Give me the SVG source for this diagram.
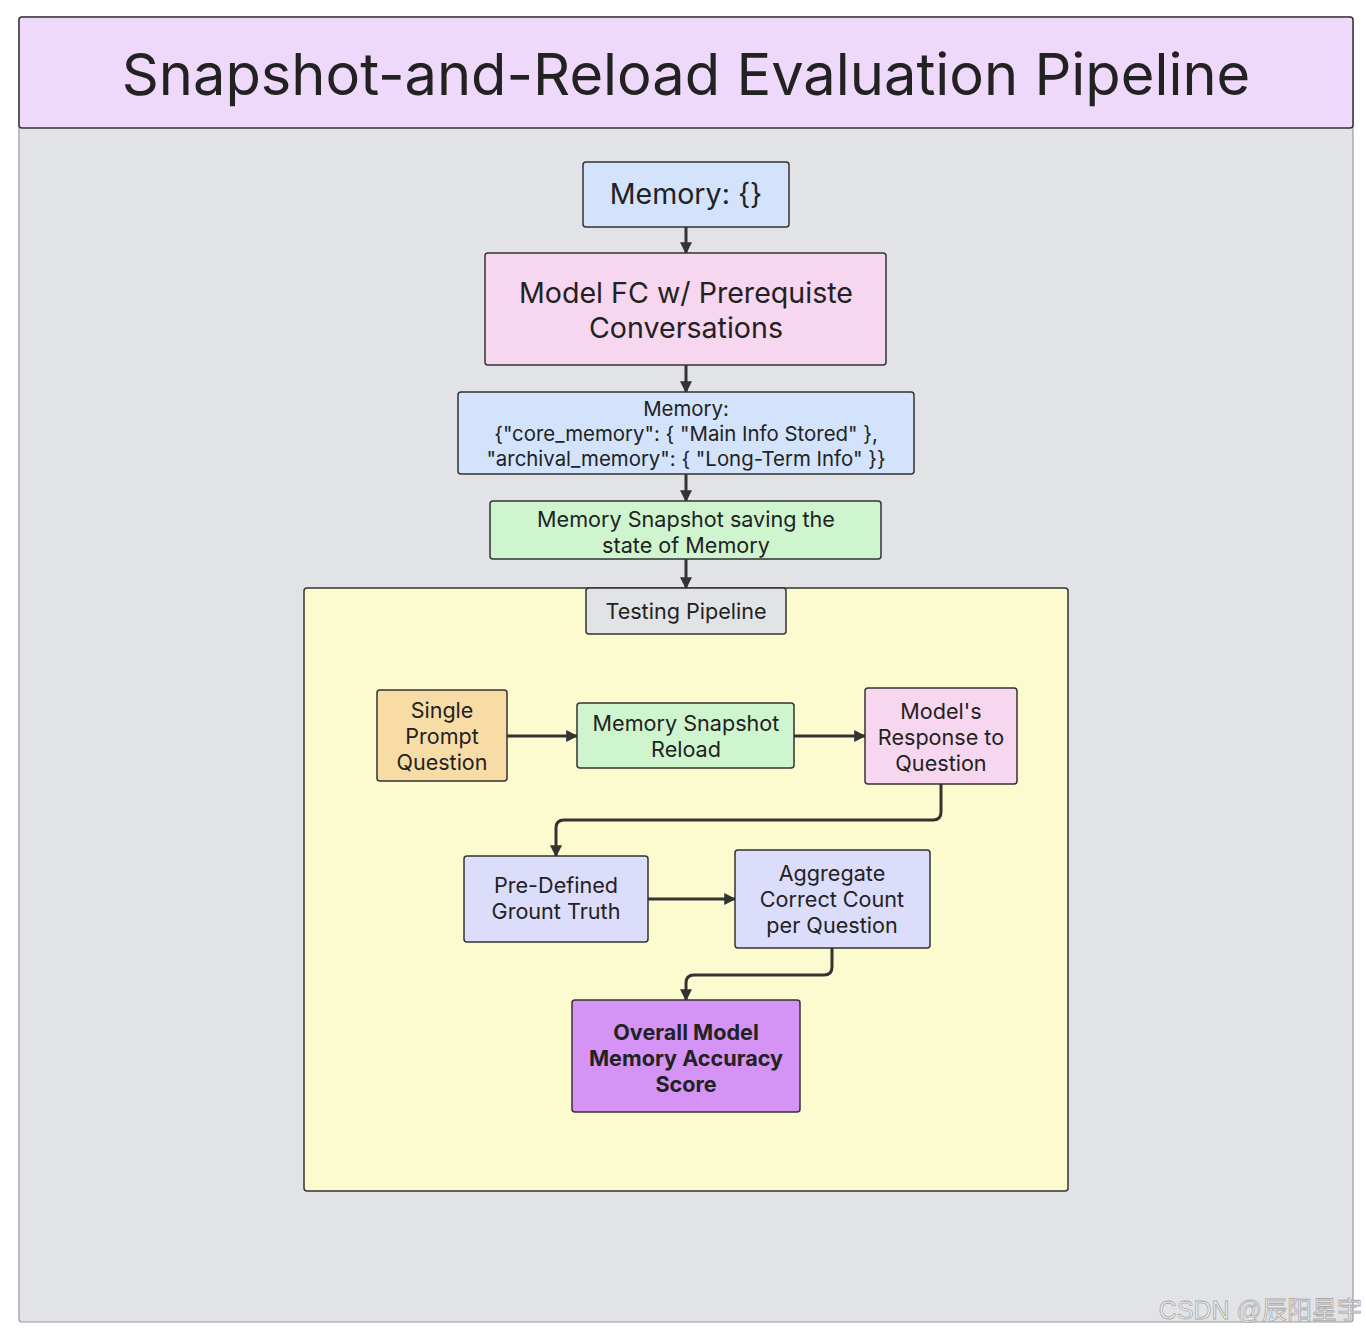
<svg xmlns="http://www.w3.org/2000/svg" width="1366" height="1334" viewBox="0 0 1366 1334">
<defs>
<marker id="ah" viewBox="0 0 10 10" refX="9" refY="5" markerWidth="4" markerHeight="4" orient="auto" markerUnits="strokeWidth">
<path d="M0,0 L10,5 L0,10 z" fill="#333"/>
</marker>
</defs>
<style>
.n{stroke:#333;stroke-width:1.5}
.t{font-family:Inter,"Noto Sans","Liberation Sans",sans-serif;fill:#222;text-anchor:middle}
.c{fill:none;stroke:#333;stroke-width:3;marker-end:url(#ah)}
</style>
<rect width="1366" height="1334" fill="#ffffff"/>
<g id="frame">
<rect x="19" y="17" width="1334" height="1305" rx="3" fill="#e2e3e7" stroke="#999" stroke-width="1.2"/>
</g>
<g id="title">
<rect x="19" y="17" width="1334" height="111" rx="3" fill="#efd9fb" stroke="#333" stroke-width="1.5"/>
<text class="t" x="686" y="95" font-size="57.8">Snapshot-and-Reload Evaluation Pipeline</text>
</g>
<g id="testing">
<rect x="304" y="588" width="764" height="603" rx="3" fill="#fcfbd0" class="n"/>
<rect x="586" y="588" width="200" height="46" rx="3" fill="#e2e3e7" class="n"/>
<text class="t" x="686" y="619" font-size="21.6">Testing Pipeline</text>
</g>
<g id="connectors">
<path class="c" d="M686,227 V253"/>
<path class="c" d="M686,365 V392"/>
<path class="c" d="M686,474 V501"/>
<path class="c" d="M686,559 V588"/>
<path class="c" d="M507,736 H577"/>
<path class="c" d="M794,736 H865"/>
<path class="c" d="M941,784 V812 Q941,820 933,820 H564 Q556,820 556,828 V856"/>
<path class="c" d="M648,899 H735"/>
<path class="c" d="M832,948 V967 Q832,975 824,975 H694 Q686,975 686,983 V1000"/>
</g>
<g id="mem0">
<rect x="583" y="162" width="206" height="65" rx="3" fill="#d3e3fb" class="n"/>
<text class="t" x="686" y="204" font-size="28.6">Memory: {}</text>
</g>
<g id="modelfc">
<rect x="485" y="253" width="401" height="112" rx="3" fill="#f7d6ef" class="n"/>
<text class="t" x="686" y="303" font-size="28.6">Model FC w/ Prerequiste</text>
<text class="t" x="686" y="338" font-size="28.6">Conversations</text>
</g>
<g id="mem1">
<rect x="458" y="392" width="456" height="82" rx="3" fill="#d3e3fb" class="n"/>
<text class="t" x="686" y="416" font-size="20.4">Memory:</text>
<text class="t" x="686" y="441" font-size="20.4">{"core_memory": { "Main Info Stored" },</text>
<text class="t" x="686" y="466" font-size="20.4">"archival_memory": { "Long-Term Info" }}</text>
</g>
<g id="snap">
<rect x="490" y="501" width="391" height="58" rx="3" fill="#cff5cf" class="n"/>
<text class="t" x="686" y="527" font-size="21.6">Memory Snapshot saving the</text>
<text class="t" x="686" y="553" font-size="21.6">state of Memory</text>
</g>
<g id="single">
<rect x="377" y="690" width="130" height="91" rx="3" fill="#f8dca6" class="n"/>
<text class="t" x="442" y="718" font-size="21.5">Single</text>
<text class="t" x="442" y="744" font-size="21.5">Prompt</text>
<text class="t" x="442" y="770" font-size="21.5">Question</text>
</g>
<g id="reload">
<rect x="577" y="703" width="217" height="65" rx="3" fill="#cff5cf" class="n"/>
<text class="t" x="686" y="731" font-size="21.6">Memory Snapshot</text>
<text class="t" x="686" y="757" font-size="21.6">Reload</text>
</g>
<g id="response">
<rect x="865" y="688" width="152" height="96" rx="3" fill="#f7d6ef" class="n"/>
<text class="t" x="941" y="719" font-size="21.6">Model's</text>
<text class="t" x="941" y="745" font-size="21.6">Response to</text>
<text class="t" x="941" y="771" font-size="21.6">Question</text>
</g>
<g id="truth">
<rect x="464" y="856" width="184" height="86" rx="3" fill="#dcdcfb" class="n"/>
<text class="t" x="556" y="893" font-size="21.6">Pre-Defined</text>
<text class="t" x="556" y="919" font-size="21.6">Grount Truth</text>
</g>
<g id="aggregate">
<rect x="735" y="850" width="195" height="98" rx="3" fill="#dcdcfb" class="n"/>
<text class="t" x="832" y="881" font-size="21.6">Aggregate</text>
<text class="t" x="832" y="907" font-size="21.6">Correct Count</text>
<text class="t" x="832" y="933" font-size="21.6">per Question</text>
</g>
<g id="score">
<rect x="572" y="1000" width="228" height="112" rx="3" fill="#d593f5" class="n"/>
<text class="t" x="686" y="1040" font-size="21.6" font-weight="bold">Overall Model</text>
<text class="t" x="686" y="1066" font-size="21.6" font-weight="bold">Memory Accuracy</text>
<text class="t" x="686" y="1092" font-size="21.6" font-weight="bold">Score</text>
</g>
<g id="watermark">
<text x="1362" y="1319" font-size="25" text-anchor="end" font-family="'Liberation Sans','Noto Sans CJK SC',sans-serif" fill="#f2f2f2" stroke="#a8a8a8" stroke-width="0.8">CSDN @辰阳星宇</text>
</g>
</svg>
